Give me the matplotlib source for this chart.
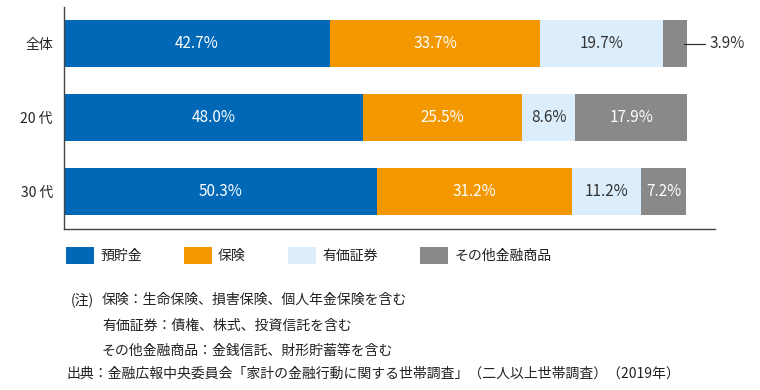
import matplotlib
matplotlib.use('Agg')
import matplotlib.pyplot as plt

plt.rcParams['font.family'] = ['Noto Sans CJK JP', 'DejaVu Sans']

# data
groups = ['全体', '20 代', '30 代']
categories = ['預貯金', '保険', '有価証券', 'その他金融商品']
deposits = [42.7, 48.0, 50.3]
insurance = [33.7, 25.5, 31.2]
securities = [19.7, 8.6, 11.2]
others = [3.9, 17.9, 7.2]

colors = ['#0068b7', '#f39800', '#dcedfb', '#898989']
text_colors = ['white', 'white', '#333333', 'white']

fig = plt.figure(figsize=(7.6, 3.9), dpi=100)
ax = fig.add_axes([64 / 760, 1 - 229 / 390, 651 / 760, 222 / 390])

ypos = list(range(len(groups)))
series = [deposits, insurance, securities, others]
left = [0.0] * len(groups)
for vals, name, col, tcol in zip(series, categories, colors, text_colors):
    ax.barh(ypos, vals, left=left, height=0.635, color=col, label=name)
    for i, v in enumerate(vals):
        # the small one in the first row is labelled outside the bar
        if v < 5:
            end = left[i] + v
            ax.plot([end - 0.5, 102.9], [i, i], color='#333333', lw=0.9, zorder=3)
            ax.text(103.6, i, f'{v:.1f}%', ha='left', va='center',
                    fontsize=11, color='#333333')
        else:
            ax.text(left[i] + v / 2, i, f'{v:.1f}%', ha='center', va='center',
                    fontsize=11, color=tcol)
    left = [l + v for l, v in zip(left, vals)]

ax.set_xlim(0, 104.5)
ax.set_ylim(2.5, -0.493)
ax.set_yticks(ypos)
ax.set_yticklabels(groups, fontsize=10, color='#222222')
ax.tick_params(axis='y', length=0, pad=8)
ax.set_xticks([])
for s in ['top', 'right']:
    ax.spines[s].set_visible(False)
for s in ['left', 'bottom']:
    ax.spines[s].set_color('#444444')
    ax.spines[s].set_linewidth(1.0)

# legend
fig.legend(loc='upper left', bbox_to_anchor=(66 / 760, 1 - 247 / 390),
           ncol=4, frameon=False, fontsize=10, borderpad=0, borderaxespad=0,
           handlelength=2.0, handleheight=1.5, handletextpad=0.45,
           columnspacing=3.05, labelcolor='#222222')

# notes
fig.text(82 / 760, 1 - 300 / 390, '(注)', fontsize=10, ha='center', va='center',
         color='#222222')
fig.text(102 / 760, 1 - 300 / 390, '保険：生命保険、損害保険、個人年金保険を含む',
         fontsize=10, va='center', color='#222222')
fig.text(102 / 760, 1 - 326 / 390, '有価証券：債権、株式、投資信託を含む',
         fontsize=10, va='center', color='#222222')
fig.text(102 / 760, 1 - 351 / 390, 'その他金融商品：金銭信託、財形貯蓄等を含む',
         fontsize=10, va='center', color='#222222')
fig.text(66 / 760, 1 - 374 / 390,
         '出典：金融広報中央委員会「家計の金融行動に関する世帯調査」（二人以上世帯調査）（2019年）',
         fontsize=10, va='center', color='#222222')

fig.savefig('out.png', dpi=100)
